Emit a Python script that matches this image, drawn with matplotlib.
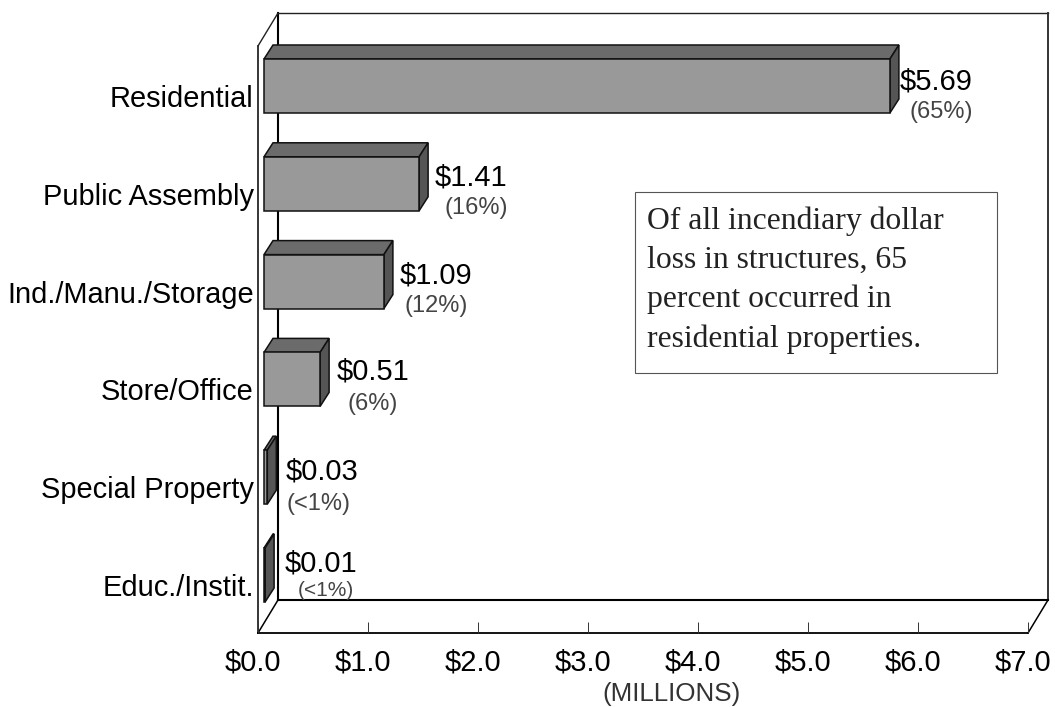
import matplotlib
matplotlib.use("Agg")
import matplotlib.pyplot as plt
import numpy as np
from matplotlib.patches import Polygon
from matplotlib.transforms import ScaledTranslation

# ---- data ----
categories = ["Residential", "Public Assembly", "Ind./Manu./Storage",
              "Store/Office", "Special Property", "Educ./Instit."]
values = [5.69, 1.41, 1.09, 0.51, 0.03, 0.01]
value_labels = ["$5.69", "$1.41", "$1.09", "$0.51", "$0.03", "$0.01"]
pct_labels = ["(65%)", "(16%)", "(12%)", "(6%)", "(<1%)", "(<1%)"]
x_ticks = [0, 1, 2, 3, 4, 5, 6, 7]
x_tick_labels = ["$0.0", "$1.0", "$2.0", "$3.0", "$4.0", "$5.0", "$6.0", "$7.0"]
note = ("Of all incendiary dollar\nloss in structures, 65\n"
        "percent occurred in\nresidential properties.")

# ---- layout (pixels) ----
W, H, DPI = 1055, 707, 100
PX_X0, PX_X7, PX_BOTTOM, PX_TOP = 258, 1028, 633, 13
ROW0, ROW_STEP = 86.0, 97.8
PX_PER_X = (PX_X7 - PX_X0) / 7
bar_start_px = 6
bar_h_px = 54
bar_dx, bar_dy = 9, 14
wall_dx, wall_dy = 20, 33
val_off = [1, 7, 7, 8, 9, 11]
val_base = [89, 185, 283, 380, 479, 572]
pct_off = [11, 16, 12, 18, 10, 24]
pct_base = [118, 214, 312, 410, 510, 596]
pct_size = [17, 17, 17, 17, 17, 15]

plt.rcParams["font.family"] = ["Liberation Sans", "DejaVu Sans"]
fig = plt.figure(figsize=(W / DPI, H / DPI), dpi=DPI)
ax = fig.add_axes([PX_X0 / W, 1 - PX_BOTTOM / H, (PX_X7 - PX_X0) / W, (PX_BOTTOM - PX_TOP) / H])
ax.set_xlim(0, 7)
ax.set_ylim((PX_BOTTOM - ROW0) / ROW_STEP, (PX_TOP - ROW0) / ROW_STEP)
ax.patch.set_visible(False)
for s in ax.spines.values():
    s.set_visible(False)

ux = 1 / PX_PER_X  # data per pixel, x
uy = 1 / ROW_STEP  # data per pixel, y (down positive)
ypos = np.arange(len(categories))
LW = 1.1
DARK = "#111111"

# ---- frame ----
ymin, ymax = ax.get_ylim()
wx, wy = wall_dx * ux, wall_dy * uy
ax.plot([wx, wx], [ymin - wy, ymax], color="black", lw=1.5, clip_on=False, zorder=1)
ax.plot([wx, 7 + wx], [ymax, ymax], color="#222222", lw=1.0, clip_on=False, zorder=1)
ax.plot([7 + wx, 7 + wx], [ymax, ymin - wy], color="#333333", lw=1.4, clip_on=False, zorder=1)
ax.plot([wx, 7 + wx], [ymin - wy, ymin - wy], color="black", lw=1.5, clip_on=False, zorder=1)
ax.plot([0, 7], [ymin, ymin], color="black", lw=1.3, clip_on=False, zorder=1)
ax.plot([0, 0], [ymin, ymax + wy], color="black", lw=1.1, clip_on=False, zorder=1)
ax.plot([0, wx], [ymin, ymin - wy], color="black", lw=1.1, clip_on=False, zorder=1)
ax.plot([7, 7 + wx], [ymin, ymin - wy], color="black", lw=1.1, clip_on=False, zorder=1)
ax.plot([0, wx], [ymax + wy, ymax], color="#222222", lw=1.0, clip_on=False, zorder=1)

# ---- bars ----
start = bar_start_px * ux
bh = bar_h_px * uy
dx, dy = bar_dx * ux, bar_dy * uy
ax.barh(ypos, values, left=start, height=bh, color="#999999", edgecolor=DARK, linewidth=LW, zorder=3)
for y, v in zip(ypos, values):
    x0, x1 = start, start + v
    t, b = y - bh / 2, y + bh / 2
    ax.add_patch(Polygon([(x0, t), (x1, t), (x1 + dx, t - dy), (x0 + dx, t - dy)],
                         facecolor="#6b6b6b", edgecolor=DARK, lw=LW, zorder=2.5))
    ax.add_patch(Polygon([(x1, t), (x1 + dx, t - dy), (x1 + dx, b - dy), (x1, b)],
                         facecolor="#555555", edgecolor=DARK, lw=LW, zorder=2.5))

# ---- value labels ----
def px_text(x, y_px, s, **kw):
    ax.annotate(s, xy=(x, (y_px - ROW0) * uy), xycoords="data", xytext=(0, 0),
                textcoords="offset points", ha="left", va="baseline", annotation_clip=False, **kw)

for i, v in enumerate(values):
    end = start + v + dx
    px_text(end + val_off[i] * ux, val_base[i], value_labels[i], fontsize=21, color="black", zorder=5)
    px_text(end + pct_off[i] * ux, pct_base[i], pct_labels[i], fontsize=pct_size[i], color="#444444", zorder=5)

# ---- ticks ----
ax.set_xticks(x_ticks, labels=x_tick_labels)
ax.tick_params(axis="x", direction="in", length=8, width=0.7, color="#333333",
               labelsize=21, pad=11, top=False)
for lab in ax.get_xticklabels():
    lab.set_transform(lab.get_transform() + ScaledTranslation(-5 / DPI, 0, fig.dpi_scale_trans))
ax.set_yticks(ypos, labels=categories)
ax.tick_params(axis="y", length=0, labelsize=20.9, pad=3)
for lab in ax.get_yticklabels():
    lab.set_transform(lab.get_transform() + ScaledTranslation(0, -10 / DPI, fig.dpi_scale_trans))

fig.text(672 / W, 1 - 701 / H, "(MILLIONS)", fontsize=18.7, color="#333333", ha="center", va="baseline")

# ---- note box ----
fig.patches.append(plt.Rectangle((635 / W, 1 - 373 / H), 362 / W, 181 / H, transform=fig.transFigure,
                                 facecolor="white", edgecolor="#555555", lw=0.8, zorder=6))
fig.text(647 / W, 1 - 347 / H, note, family="Liberation Serif", fontsize=22.8, color="#222222",
         ha="left", va="baseline", linespacing=1.445, zorder=7)

fig.savefig("out.png", dpi=DPI)
